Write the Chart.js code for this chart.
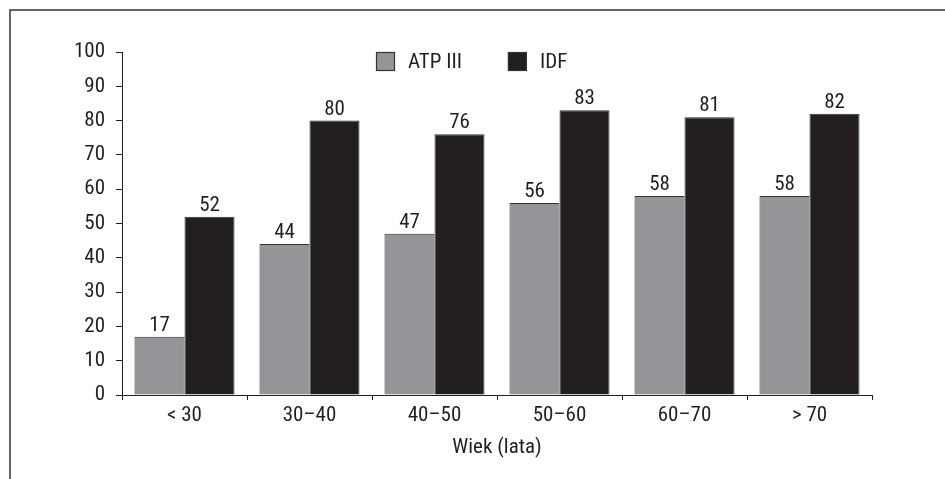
<!DOCTYPE html>
<html>
<head>
<meta charset="utf-8">
<script src="https://cdn.jsdelivr.net/npm/chart.js@4/dist/chart.umd.min.js"></script>
<style>
  html, body { margin: 0; padding: 0; background: #ffffff; }
  canvas { display: block; }
</style>
</head>
<body>
<canvas id="chart" width="945" height="479"></canvas>
<script>
// Age groups and prevalence (%) by definition
const categories = ['< 30', '30\u201340', '40\u201350', '50\u201360', '60\u201370', '> 70'];
const atpValues = [17, 44, 47, 56, 58, 58];
const idfValues = [52, 80, 76, 83, 81, 82];
const yTicks = [0, 10, 20, 30, 40, 50, 60, 70, 80, 90, 100];
const seriesNames = ['ATP III', 'IDF'];
const axisTitle = 'Wiek (lata)';

const INK = '#231f20';
const GREY = '#939598';
const FONT = "'Roboto Condensed', 'Liberation Sans', Arial, sans-serif";
const FONT_SIZE = 21;

// Outer frame (top and left edges visible)
const framePlugin = {
  id: 'frame',
  beforeDraw(chart) {
    const ctx = chart.ctx;
    ctx.save();
    ctx.strokeStyle = '#333333';
    ctx.lineWidth = 1.5;
    ctx.beginPath();
    ctx.moveTo(10, chart.height + 2);
    ctx.lineTo(10, 10);
    ctx.lineTo(chart.width + 2, 10);
    ctx.stroke();
    ctx.restore();
  }
};

// Value labels above each bar
const valueLabels = {
  id: 'valueLabels',
  afterDatasetsDraw(chart) {
    const ctx = chart.ctx;
    ctx.save();
    ctx.fillStyle = INK;
    ctx.font = FONT_SIZE + 'px ' + FONT;
    ctx.textAlign = 'center';
    ctx.textBaseline = 'alphabetic';
    chart.data.datasets.forEach((ds, i) => {
      const meta = chart.getDatasetMeta(i);
      meta.data.forEach((bar, j) => {
        ctx.fillText(String(ds.data[j]), bar.x, bar.y - 6);
      });
    });
    ctx.restore();
  }
};

// Legend drawn inside the plot area, top centre
const innerLegend = {
  id: 'innerLegend',
  afterDraw(chart) {
    const ctx = chart.ctx;
    const area = chart.chartArea;
    const box = 19;
    const gap = 13;
    const spacing = 46;
    ctx.save();
    ctx.font = FONT_SIZE + 'px ' + FONT;
    ctx.textBaseline = 'middle';
    ctx.textAlign = 'left';
    let x = area.left + 254;
    const y = area.top;
    chart.data.datasets.forEach((ds) => {
      ctx.fillStyle = ds.backgroundColor;
      ctx.fillRect(x, y, box, box);
      ctx.strokeStyle = '#333333';
      ctx.lineWidth = 1.2;
      ctx.strokeRect(x + 0.5, y + 0.5, box - 1, box - 1);
      ctx.fillStyle = INK;
      ctx.fillText(ds.label, x + box + gap, y + box / 2 + 1);
      x += box + gap + ctx.measureText(ds.label).width + spacing;
    });
    ctx.restore();
  }
};

new Chart(document.getElementById('chart'), {
  type: 'bar',
  data: {
    labels: categories,
    datasets: [
      {
        label: seriesNames[0],
        data: atpValues,
        backgroundColor: GREY,
        borderColor: '#333333',
        borderWidth: 1,
        categoryPercentage: 0.8,
        barPercentage: 1.0
      },
      {
        label: seriesNames[1],
        data: idfValues,
        backgroundColor: INK,
        borderColor: '#333333',
        borderWidth: 1,
        categoryPercentage: 0.8,
        barPercentage: 1.0
      }
    ]
  },
  options: {
    responsive: false,
    devicePixelRatio: 1,
    animation: false,
    layout: { padding: { left: 0, right: 73, top: 52, bottom: 0 } },
    plugins: {
      legend: { display: false },
      tooltip: { enabled: false },
      title: { display: false }
    },
    scales: {
      x: {
        type: 'category',
        offset: true,
        grid: {
          offset: true,
          drawOnChartArea: false,
          drawTicks: true,
          tickLength: 5,
          color: INK,
          lineWidth: 1
        },
        border: { display: true, color: INK, width: 1 },
        ticks: {
          color: INK,
          font: { family: FONT, size: FONT_SIZE },
          padding: 3,
          maxRotation: 0
        },
        title: {
          display: true,
          text: axisTitle,
          color: INK,
          font: { family: FONT, size: FONT_SIZE },
          padding: { top: 0, bottom: 19 }
        },
        afterFit(scale) { scale.height = 84; }
      },
      y: {
        min: 0,
        max: 100,
        afterBuildTicks(scale) {
          scale.ticks = yTicks.map(v => ({ value: v }));
        },
        grid: {
          drawOnChartArea: false,
          drawTicks: true,
          tickLength: 6,
          color: INK,
          lineWidth: 1
        },
        border: { display: true, color: INK, width: 1 },
        ticks: {
          color: INK,
          font: { family: FONT, size: FONT_SIZE },
          padding: 11
        },
        afterFit(scale) { scale.width = 122; }
      }
    }
  },
  plugins: [framePlugin, valueLabels, innerLegend]
});
</script>
</body>
</html>
